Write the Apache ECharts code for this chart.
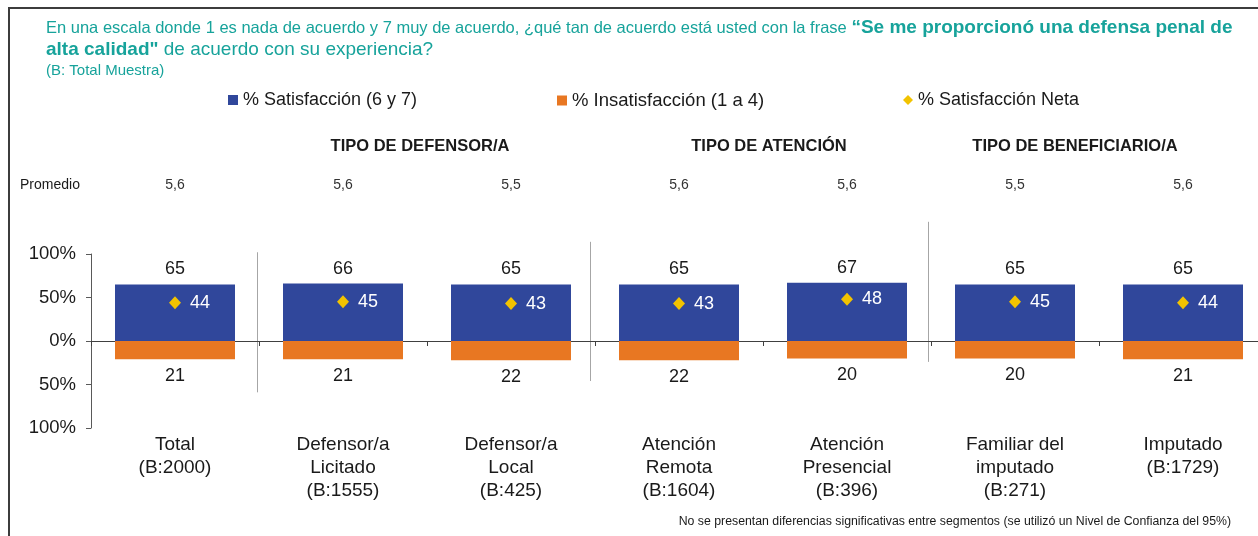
<!DOCTYPE html>
<html>
<head>
<meta charset="utf-8">
<script src="https://cdn.jsdelivr.net/npm/echarts@6/dist/echarts.min.js"></script>
<style>
html,body{margin:0;padding:0;background:#fff;}
#c{width:1258px;height:536px;}
</style>
</head>
<body>
<div id="c"></div>
<script>
const categories = ['Total\n(B:2000)', 'Defensor/a\nLicitado\n(B:1555)', 'Defensor/a\nLocal\n(B:425)', 'Atención\nRemota\n(B:1604)', 'Atención\nPresencial\n(B:396)', 'Familiar del\nimputado\n(B:271)', 'Imputado\n(B:1729)'];
const satisfaccion = [65, 66, 65, 65, 67, 65, 65];
const insatisfaccion = [21, 21, 22, 22, 20, 20, 21];
const neta = [44, 45, 43, 43, 48, 45, 44];
const promedio = ['5,6', '5,6', '5,5', '5,6', '5,6', '5,5', '5,6'];
const groupHeaders = ['TIPO DE DEFENSOR/A', 'TIPO DE ATENCIÓN', 'TIPO DE BENEFICIARIO/A'];
const seriesNames = ['% Satisfacción (6 y 7)', '% Insatisfacción (1 a 4)', '% Satisfacción Neta'];

const FONT = '"Liberation Sans", Arial, sans-serif';
const TEAL = '#17a39b';
const BLUE = '#30479b';
const ORANGE = '#e87722';
const YELLOW = '#f2c300';
const INK = '#1a1a1a';

const chart = echarts.init(document.getElementById('c'), null, {renderer: 'canvas'});

const legendText = {fontFamily: FONT, fontSize: 18, color: INK};
const option = {
  animation: false,
  backgroundColor: '#fff',
  textStyle: {fontFamily: FONT},
  title: {
    left: 46, top: 17, padding: 0,
    text: '{a|En una escala donde 1 es nada de acuerdo y 7 muy de acuerdo, ¿qué tan de acuerdo está usted con la frase }{b|“Se me proporcionó una defensa penal de}\n{b|alta calidad"}{c| de acuerdo con su experiencia?}\n{d|(B: Total Muestra)}',
    textStyle: {
      fontWeight: 'normal',
      rich: {
        a: {fontFamily: FONT, fontSize: 16.5, fontWeight: 'normal', color: TEAL, lineHeight: 22},
        b: {fontFamily: FONT, fontSize: 19, fontWeight: 'bold', color: TEAL, lineHeight: 22},
        c: {fontFamily: FONT, fontSize: 19, fontWeight: 'normal', color: TEAL, lineHeight: 22},
        d: {fontFamily: FONT, fontSize: 15, fontWeight: 'normal', color: TEAL, lineHeight: 20}
      }
    }
  },
  legend: [
    {data: [seriesNames[0]], left: 228, top: 91, padding: 0, itemWidth: 10, itemHeight: 10, icon: 'rect', textStyle: legendText},
    {data: [seriesNames[1]], left: 557, top: 91, padding: 0, itemWidth: 10, itemHeight: 10, icon: 'rect', textStyle: Object.assign({}, legendText, {fontSize: 18.5})},
    {data: [seriesNames[2]], left: 903, top: 91, padding: 0, itemWidth: 10, itemHeight: 10, icon: 'diamond', textStyle: legendText}
  ],
  grid: {left: 91, right: -9, top: 254, bottom: 108, containLabel: false, outerBoundsMode: 'none'},
  xAxis: [
    {
      type: 'category', data: categories, position: 'bottom',
      axisLine: {onZero: true, lineStyle: {color: '#404040', width: 1}},
      axisTick: {show: true, length: 5, lineStyle: {color: '#404040'}},
      axisLabel: {margin: 5, fontFamily: FONT, fontSize: 19, color: INK, lineHeight: 23, interval: 0}
    },
    {
      type: 'category', data: promedio, position: 'top',
      axisLine: {show: false, onZero: false},
      axisTick: {show: false},
      axisLabel: {margin: 62, fontFamily: FONT, fontSize: 14, color: '#333', interval: 0}
    }
  ],
  yAxis: {
    type: 'value', min: -100, max: 100, interval: 50,
    axisLine: {show: true, onZero: false, lineStyle: {color: '#595959'}},
    axisTick: {show: true, length: 5, lineStyle: {color: '#595959'}},
    splitLine: {show: false},
    axisLabel: {fontFamily: FONT, fontSize: 18.5, color: INK, margin: 15,
      formatter: v => Math.abs(v) + '%'}
  },
  series: [
    {
      name: seriesNames[0], type: 'bar', stack: 'a', barWidth: 120,
      data: satisfaccion, itemStyle: {color: BLUE},
      label: {show: true, position: 'top', distance: 6, fontFamily: FONT, fontSize: 18, color: INK}
    },
    {
      name: seriesNames[1], type: 'bar', stack: 'a', barWidth: 120,
      data: insatisfaccion.map(v => -v), itemStyle: {color: ORANGE},
      label: {show: true, position: 'bottom', distance: 8, fontFamily: FONT, fontSize: 18, color: INK,
        formatter: p => Math.abs(p.value)}
    },
    {
      name: seriesNames[2], type: 'scatter', symbol: 'diamond', symbolSize: [12, 13], z: 5,
      data: neta, itemStyle: {color: YELLOW, opacity: 1},
      label: {show: true, position: 'right', distance: 9, fontFamily: FONT, fontSize: 18, color: '#ffffff'}
    }
  ]
};
chart.setOption(option);

// decorations derived from axis positions
const cx = i => chart.convertToPixel({xAxisIndex: 0}, i);
const py = v => chart.convertToPixel({yAxisIndex: 0}, v);
const sepDefs = [[0, 102, -59, -1], [2, 114, -46, -4], [4, 137, -24, -2]];
const graphics = [];
sepDefs.forEach(([i, top, bot, dx]) => {
  const x = Math.round((cx(i) + cx(i + 1)) / 2) + dx - 0.5;
  graphics.push({type: 'line', silent: true, shape: {x1: x, y1: py(top), x2: x, y2: py(bot)},
    style: {stroke: '#a6a6a6', lineWidth: 1}});
});
const headerX = [420, 769, 1075];
groupHeaders.forEach((t, k) => {
  graphics.push({type: 'text', silent: true, x: headerX[k], y: 146,
    style: {text: t, fontFamily: FONT, fontSize: 16.5, fontWeight: 'bold', fill: INK, align: 'center', verticalAlign: 'middle'}});
});
graphics.push({type: 'text', silent: true, x: 20, y: 185,
  style: {text: 'Promedio', fontFamily: FONT, fontSize: 14, fill: INK, align: 'left', verticalAlign: 'middle'}});
graphics.push({type: 'text', silent: true, x: 1231, y: 522,
  style: {text: 'No se presentan diferencias significativas entre segmentos (se utilizó un Nivel de Confianza del 95%)',
    fontFamily: FONT, fontSize: 12.3, fill: INK, align: 'right', verticalAlign: 'middle'}});
graphics.push({type: 'rect', silent: true, shape: {x: 9, y: 8, width: 1400, height: 700},
  style: {fill: 'none', stroke: '#3c3c3c', lineWidth: 2}});
chart.setOption({graphic: graphics});
</script>
</body>
</html>
